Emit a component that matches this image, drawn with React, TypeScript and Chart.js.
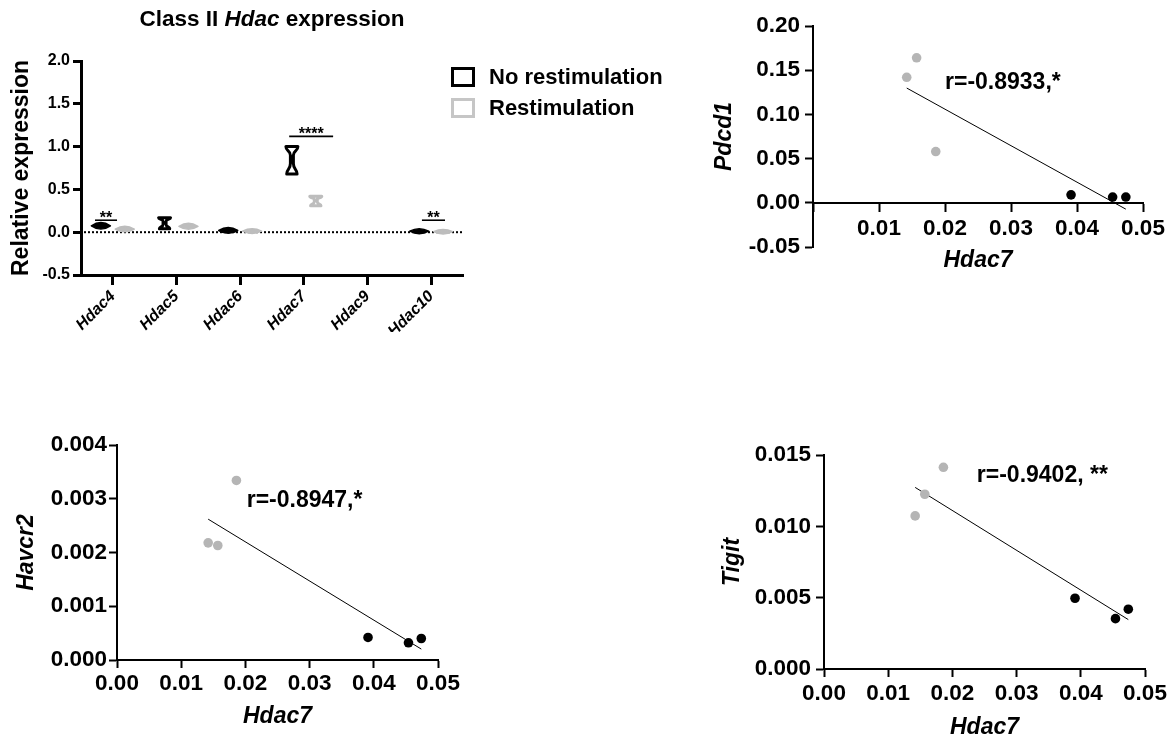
import React, { useEffect, useRef } from 'react';
import { Chart, registerables } from 'chart.js';

Chart.register(...registerables);

const FONT = '"Liberation Sans", Arial, Helvetica, sans-serif';
const BLACK = '#000000';
const GRAY_VIOLIN = '#bdbdbd';
const GRAY_LEGEND = '#c6c6c6';
const GRAY_POINT = '#b5b5b5';

// ---------- Panel A: Class II Hdac expression ----------
const titleParts = ['Class II ', 'Hdac', ' expression'];
const genes = ['Hdac4', 'Hdac5', 'Hdac6', 'Hdac7', 'Hdac9', 'Hdac10'];
const noRestimLow = [0.06, 0.04, 0.01, 0.68, null, 0.006];
const noRestimHigh = [0.09, 0.17, 0.03, 1.0, null, 0.018];
const restimLow = [0.028, 0.058, 0.008, 0.31, null, 0.003];
const restimHigh = [0.045, 0.08, 0.016, 0.42, null, 0.009];
const relExprMin = -0.5;
const relExprMax = 2.0;
const relExprStep = 0.5;
const sigGenes = ['Hdac4', 'Hdac7', 'Hdac10'];
const sigLevels = [0.14, 1.12, 0.14];
const sigLabels = ['**', '****', '**'];

// ---------- Correlation panels ----------
const hdac7Restim = [0.0142, 0.0157, 0.0186];
const hdac7NoRestim = [0.0391, 0.0454, 0.0474];
const pdcd1Restim = [0.142, 0.164, 0.058];
const pdcd1NoRestim = [0.009, 0.0065, 0.0065];
const havcr2Restim = [0.00218, 0.00213, 0.00334];
const havcr2NoRestim = [0.00042, 0.00032, 0.0004];
const tigitRestim = [0.01073, 0.01225, 0.01414];
const tigitNoRestim = [0.00496, 0.00353, 0.00419];
const pdcd1Label = 'r=-0.8933,*';
const havcr2Label = 'r=-0.8947,*';
const tigitLabel = 'r=-0.9402, **';

function linearFit(xs: number[], ys: number[]) {
  const n = xs.length;
  const mx = xs.reduce((a, b) => a + b, 0) / n;
  const my = ys.reduce((a, b) => a + b, 0) / n;
  let sxy = 0;
  let sxx = 0;
  for (let i = 0; i < n; i++) {
    sxy += (xs[i] - mx) * (ys[i] - my);
    sxx += (xs[i] - mx) * (xs[i] - mx);
  }
  const slope = sxy / sxx;
  const x0 = Math.min(...xs);
  const x1 = Math.max(...xs);
  return [
    { x: x0, y: my + slope * (x0 - mx) },
    { x: x1, y: my + slope * (x1 - mx) },
  ];
}

const violinPlugin = {
  id: 'violins',
  afterDatasetsDraw(chart: any) {
    const ctx = chart.ctx;
    const ys = chart.scales.y;
    chart.data.datasets.forEach((ds: any, d: number) => {
      const meta = chart.getDatasetMeta(d);
      meta.data.forEach((el: any, i: number) => {
        const v = ds.data[i];
        if (!v) return;
        const cx = el.x;
        const yTop = ys.getPixelForValue(v[1]);
        const yBot = ys.getPixelForValue(v[0]);
        const h = yBot - yTop;
        ctx.save();
        ctx.strokeStyle = ds.violinColor;
        ctx.lineJoin = 'round';
        ctx.beginPath();
        if (h < 6) {
          const hw = 9.5;
          const ym = (yTop + yBot) / 2;
          const bulge = h / 2 + 2;
          ctx.moveTo(cx - hw, ym);
          ctx.quadraticCurveTo(cx, ym - 2 * bulge, cx + hw, ym);
          ctx.quadraticCurveTo(cx, ym + 2 * bulge, cx - hw, ym);
          ctx.closePath();
          ctx.fillStyle = ds.violinColor;
          ctx.lineWidth = 1.5;
          ctx.fill();
          ctx.stroke();
        } else {
          const hw = 6;
          const hb = 5.2;
          const w = 1.5;
          ctx.moveTo(cx - hw, yTop);
          ctx.lineTo(cx + hw, yTop);
          ctx.bezierCurveTo(cx + hw, yTop + h * 0.18, cx + w, yTop + h * 0.14, cx + w, yTop + h * 0.32);
          ctx.lineTo(cx + w, yTop + h * 0.62);
          ctx.bezierCurveTo(cx + w, yTop + h * 0.84, cx + hb, yTop + h * 0.82, cx + hb, yBot);
          ctx.lineTo(cx - hb, yBot);
          ctx.bezierCurveTo(cx - hb, yTop + h * 0.82, cx - w, yTop + h * 0.84, cx - w, yTop + h * 0.62);
          ctx.lineTo(cx - w, yTop + h * 0.32);
          ctx.bezierCurveTo(cx - w, yTop + h * 0.14, cx - hw, yTop + h * 0.18, cx - hw, yTop);
          ctx.closePath();
          ctx.fillStyle = '#ffffff';
          ctx.lineWidth = 3;
          ctx.fill();
          ctx.stroke();
        }
        ctx.restore();
      });
    });
  },
};

const zeroLinePlugin = {
  id: 'zeroLine',
  beforeDatasetsDraw(chart: any) {
    const { ctx, chartArea } = chart;
    const y0 = chart.scales.y.getPixelForValue(0);
    ctx.save();
    ctx.strokeStyle = BLACK;
    ctx.lineWidth = 2;
    ctx.setLineDash([2, 2]);
    ctx.beginPath();
    ctx.moveTo(chartArea.left + 3, y0);
    ctx.lineTo(chartArea.right, y0);
    ctx.stroke();
    ctx.restore();
  },
};

const sigSpans: Record<string, [number, number]> = {
  Hdac4: [-0.28, 0.066],
  Hdac7: [-0.23, 0.46],
  Hdac10: [-0.145, 0.217],
};

const sigPlugin = {
  id: 'sigBars',
  afterDatasetsDraw(chart: any) {
    const { ctx } = chart;
    const xs = chart.scales.x;
    const ys = chart.scales.y;
    const catW = (xs.right - xs.left) / genes.length;
    sigGenes.forEach((g, k) => {
      const idx = genes.indexOf(g);
      const xc = xs.getPixelForValue(idx);
      const span = sigSpans[g];
      const x0 = xc + span[0] * catW;
      const x1 = xc + span[1] * catW;
      const y = ys.getPixelForValue(sigLevels[k]);
      ctx.save();
      ctx.strokeStyle = BLACK;
      ctx.lineWidth = 1.6;
      ctx.beginPath();
      ctx.moveTo(x0, y);
      ctx.lineTo(x1, y);
      ctx.stroke();
      ctx.fillStyle = BLACK;
      ctx.font = `bold 16px ${FONT}`;
      ctx.textAlign = 'center';
      ctx.textBaseline = 'alphabetic';
      ctx.fillText(sigLabels[k], (x0 + x1) / 2, y + 3);
      ctx.restore();
    });
  },
};

const legendPlugin = {
  id: 'boxLegend',
  afterDraw(chart: any) {
    const { ctx, chartArea } = chart;
    const x0 = chartArea.right - 12;
    chart.data.datasets.forEach((ds: any, i: number) => {
      const top = chartArea.top + 6 + i * 31;
      ctx.save();
      ctx.lineWidth = 3;
      ctx.strokeStyle = ds.legendColor;
      ctx.strokeRect(x0 + 1.5, top + 1.5, 21, 17);
      ctx.fillStyle = BLACK;
      ctx.font = `bold 22px ${FONT}`;
      ctx.textAlign = 'left';
      ctx.textBaseline = 'middle';
      ctx.fillText(ds.label, x0 + 38, top + 11);
      ctx.restore();
    });
  },
};

const titlePlugin = {
  id: 'mixedTitle',
  afterDraw(chart: any) {
    const { ctx, chartArea } = chart;
    ctx.save();
    const fonts = titleParts.map((_, i) => `${i === 1 ? 'italic ' : ''}bold 22.5px ${FONT}`);
    const widths = titleParts.map((t, i) => {
      ctx.font = fonts[i];
      return ctx.measureText(t).width;
    });
    const total = widths.reduce((a, b) => a + b, 0);
    let x = (chartArea.left + chartArea.right) / 2 - total / 2;
    const y = chartArea.top - 41;
    ctx.fillStyle = BLACK;
    ctx.textAlign = 'left';
    ctx.textBaseline = 'middle';
    titleParts.forEach((t, i) => {
      ctx.font = fonts[i];
      ctx.fillText(t, x, y);
      x += widths[i];
    });
    ctx.restore();
  },
};

function makeViolinChart(canvas: HTMLCanvasElement) {
  const toRange = (lo: (number | null)[], hi: (number | null)[]) =>
    genes.map((_, i) => (lo[i] == null || hi[i] == null ? null : [lo[i], hi[i]]));
  return new Chart(canvas, {
    type: 'bar',
    data: {
      labels: genes,
      datasets: [
        {
          label: 'No restimulation',
          data: toRange(noRestimLow, noRestimHigh) as any,
          backgroundColor: 'rgba(0,0,0,0)',
          borderWidth: 0,
          categoryPercentage: 0.75,
          barPercentage: 1,
          violinColor: BLACK,
          legendColor: BLACK,
        } as any,
        {
          label: 'Restimulation',
          data: toRange(restimLow, restimHigh) as any,
          backgroundColor: 'rgba(0,0,0,0)',
          borderWidth: 0,
          categoryPercentage: 0.75,
          barPercentage: 1,
          violinColor: GRAY_VIOLIN,
          legendColor: GRAY_LEGEND,
        } as any,
      ],
    },
    options: {
      animation: false,
      responsive: false,
      events: [],
      layout: { padding: { top: 61, left: 0, right: 227, bottom: 0 } },
      plugins: { legend: { display: false }, tooltip: { enabled: false } },
      scales: {
        x: {
          type: 'category',
          grid: {
            offset: false,
            drawOnChartArea: false,
            drawTicks: true,
            tickLength: 10,
            tickWidth: 3,
            tickColor: BLACK,
            color: BLACK,
          },
          border: { display: true, color: BLACK, width: 3 },
          ticks: {
            color: BLACK,
            font: { family: FONT, size: 16, weight: 'bold', style: 'italic' },
            minRotation: 45,
            maxRotation: 45,
            autoSkip: false,
            padding: 2,
          },
          afterFit: (s: any) => {
            s.height = 57;
          },
        },
        y: {
          type: 'linear',
          min: relExprMin,
          max: relExprMax,
          grid: {
            drawOnChartArea: false,
            drawTicks: true,
            tickLength: 8,
            tickWidth: 3,
            tickColor: BLACK,
            color: BLACK,
          },
          border: { display: true, color: BLACK, width: 3 },
          ticks: {
            stepSize: relExprStep,
            color: BLACK,
            font: { family: FONT, size: 16, weight: 'bold' },
            padding: 3,
            callback: (v: any) => Number(v).toFixed(1),
          },
          title: {
            display: true,
            text: 'Relative expression',
            color: BLACK,
            font: { family: FONT, size: 23, weight: 'bold', lineHeight: 1 },
            padding: { top: 10.5, bottom: 0 },
          },
          afterFit: (s: any) => {
            s.width = 81;
          },
        },
      },
    } as any,
    plugins: [zeroLinePlugin, violinPlugin, sigPlugin, legendPlugin, titlePlugin],
  });
}

type ScatterCfg = {
  yTitle: string;
  restim: number[];
  noRestim: number[];
  yMin: number;
  yMax: number;
  yStep: number;
  yDec: number;
  xAtZero: boolean;
  hideXZero: boolean;
  yAxisWidth: number;
  xAxisHeight: number;
  padding: { top: number; bottom: number; left: number; right: number };
  yTitlePad: number;
  xTitlePad: number;
  yTickPad: number;
  xTickPad: number;
  rLabel: string;
  rAt: { x: number; y: number };
};

function makeScatterChart(canvas: HTMLCanvasElement, c: ScatterCfg) {
  const allX = [...hdac7Restim, ...hdac7NoRestim];
  const allY = [...c.restim, ...c.noRestim];
  const rPlugin = {
    id: 'rText',
    afterDatasetsDraw(chart: any) {
      const { ctx } = chart;
      const x = chart.scales.x.getPixelForValue(c.rAt.x);
      const y = chart.scales.y.getPixelForValue(c.rAt.y);
      ctx.save();
      ctx.fillStyle = BLACK;
      ctx.font = `bold 23px ${FONT}`;
      ctx.textAlign = 'left';
      ctx.textBaseline = 'middle';
      ctx.fillText(c.rLabel, x, y);
      ctx.restore();
    },
  };
  return new Chart(canvas, {
    type: 'scatter',
    data: {
      datasets: [
        {
          type: 'line',
          label: 'fit',
          data: linearFit(allX, allY),
          borderColor: BLACK,
          borderWidth: 1,
          pointRadius: 0,
          showLine: true,
          fill: false,
          order: 3,
        } as any,
        {
          label: 'Restimulation',
          data: hdac7Restim.map((x, i) => ({ x, y: c.restim[i] })),
          backgroundColor: GRAY_POINT,
          borderWidth: 0,
          pointRadius: 4.8,
          order: 1,
        },
        {
          label: 'No restimulation',
          data: hdac7NoRestim.map((x, i) => ({ x, y: c.noRestim[i] })),
          backgroundColor: BLACK,
          borderWidth: 0,
          pointRadius: 4.8,
          order: 2,
        },
      ],
    },
    options: {
      animation: false,
      responsive: false,
      events: [],
      layout: { padding: c.padding },
      plugins: { legend: { display: false }, tooltip: { enabled: false } },
      scales: {
        x: {
          type: 'linear',
          min: 0,
          max: 0.05,
          position: c.xAtZero ? { y: 0 } : 'bottom',
          grid: {
            drawOnChartArea: false,
            drawTicks: true,
            tickLength: 8,
            tickWidth: 2,
            tickColor: BLACK,
            color: BLACK,
          },
          border: { display: true, color: BLACK, width: 2 },
          ticks: {
            stepSize: 0.01,
            color: BLACK,
            font: { family: FONT, size: 22.5, weight: 'bold' },
            padding: c.xTickPad,
            maxRotation: 0,
            autoSkip: false,
            callback: (v: any) => (c.hideXZero && Math.abs(Number(v)) < 1e-9 ? '' : Number(v).toFixed(2)),
          },
          title: {
            display: true,
            text: 'Hdac7',
            color: BLACK,
            font: { family: FONT, size: 23, weight: 'bold', style: 'italic', lineHeight: 1 },
            padding: { top: 0, bottom: c.xTitlePad },
          },
          afterFit: (s: any) => {
            s.height = c.xAxisHeight;
          },
        },
        y: {
          type: 'linear',
          min: c.yMin,
          max: c.yMax,
          grid: {
            drawOnChartArea: false,
            drawTicks: true,
            tickLength: 8,
            tickWidth: 2,
            tickColor: BLACK,
            color: BLACK,
          },
          border: { display: true, color: BLACK, width: 2 },
          ticks: {
            stepSize: c.yStep,
            color: BLACK,
            font: { family: FONT, size: 22.5, weight: 'bold' },
            padding: c.yTickPad,
            callback: (v: any) => Number(v).toFixed(c.yDec),
          },
          title: {
            display: true,
            text: c.yTitle,
            color: BLACK,
            font: { family: FONT, size: 23, weight: 'bold', style: 'italic', lineHeight: 1 },
            padding: { top: c.yTitlePad, bottom: 0 },
          },
          afterFit: (s: any) => {
            s.width = c.yAxisWidth;
          },
        },
      },
    } as any,
    plugins: [rPlugin],
  });
}

const pdcd1Cfg: ScatterCfg = {
  yTitle: 'Pdcd1',
  restim: pdcd1Restim,
  noRestim: pdcd1NoRestim,
  yMin: -0.05,
  yMax: 0.2,
  yStep: 0.05,
  yDec: 2,
  xAtZero: true,
  hideXZero: true,
  yAxisWidth: 123,
  xAxisHeight: 69,
  padding: { top: 26, bottom: 33, left: 0, right: 31 },
  yTitlePad: 23.5,
  xTitlePad: 0,
  yTickPad: 5,
  xTickPad: 4,
  rLabel: pdcd1Label,
  rAt: { x: 0.02, y: 0.136 },
};

const havcr2Cfg: ScatterCfg = {
  yTitle: 'Havcr2',
  restim: havcr2Restim,
  noRestim: havcr2NoRestim,
  yMin: 0,
  yMax: 0.004,
  yStep: 0.001,
  yDec: 3,
  xAtZero: false,
  hideXZero: false,
  yAxisWidth: 117,
  xAxisHeight: 80,
  padding: { top: 25, bottom: 0, left: 0, right: 42 },
  yTitlePad: 15.5,
  xTitlePad: 11.5,
  yTickPad: 2,
  xTickPad: 2,
  rLabel: havcr2Label,
  rAt: { x: 0.0202, y: 0.00296 },
};

const tigitCfg: ScatterCfg = {
  yTitle: 'Tigit',
  restim: tigitRestim,
  noRestim: tigitNoRestim,
  yMin: 0,
  yMax: 0.015,
  yStep: 0.005,
  yDec: 3,
  xAtZero: false,
  hideXZero: false,
  yAxisWidth: 134,
  xAxisHeight: 71,
  padding: { top: 35, bottom: 0, left: 0, right: 29 },
  yTitlePad: 31.5,
  xTitlePad: 0.5,
  yTickPad: 5,
  xTickPad: 3,
  rLabel: tigitLabel,
  rAt: { x: 0.0238, y: 0.01353 },
};

export default function App() {
  const r1 = useRef<HTMLCanvasElement>(null);
  const r2 = useRef<HTMLCanvasElement>(null);
  const r3 = useRef<HTMLCanvasElement>(null);
  const r4 = useRef<HTMLCanvasElement>(null);

  useEffect(() => {
    const charts: Chart[] = [];
    if (r1.current) charts.push(makeViolinChart(r1.current));
    if (r2.current) charts.push(makeScatterChart(r2.current, pdcd1Cfg));
    if (r3.current) charts.push(makeScatterChart(r3.current, havcr2Cfg));
    if (r4.current) charts.push(makeScatterChart(r4.current, tigitCfg));
    return () => charts.forEach((c) => c.destroy());
  }, []);

  const canvasStyle = (left: number, top: number, width: number, height: number): React.CSSProperties => ({
    position: 'absolute',
    left,
    top,
    width,
    height,
    display: 'block',
  });

  return (
    <div
      style={{
        position: 'fixed',
        left: 0,
        top: 0,
        width: 1174,
        height: 740,
        background: '#ffffff',
        overflow: 'hidden',
      }}
    >
      <canvas ref={r1} width={690} height={332} style={canvasStyle(0, 0, 690, 332)} />
      <canvas ref={r2} width={484} height={280} style={canvasStyle(690, 0, 484, 280)} />
      <canvas ref={r3} width={480} height={320} style={canvasStyle(0, 420, 480, 320)} />
      <canvas ref={r4} width={484} height={320} style={canvasStyle(690, 420, 484, 320)} />
    </div>
  );
}
